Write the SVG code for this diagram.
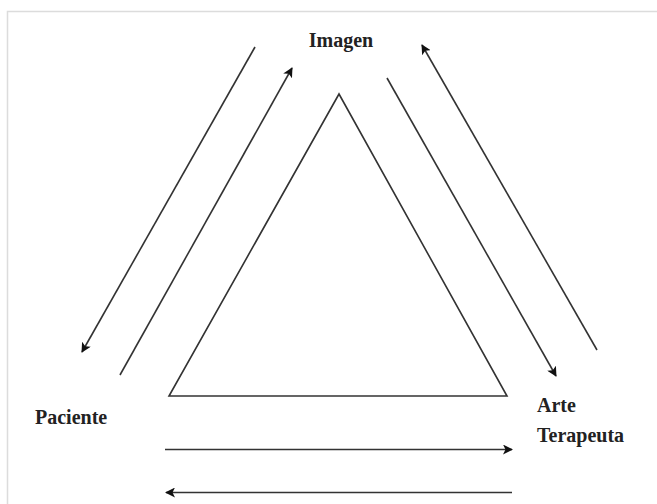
<svg xmlns="http://www.w3.org/2000/svg" width="657" height="504" viewBox="0 0 657 504">
<style>
.lbl{font-family:"Liberation Serif","DejaVu Serif",serif;font-weight:bold;font-size:20px;fill:#222}
.ln{stroke:#333;stroke-width:1.6;fill:none}
</style>
<defs>
<marker id="ah" viewBox="0 0 10 10" refX="9" refY="5" markerWidth="10" markerHeight="10" markerUnits="userSpaceOnUse" orient="auto">
<path d="M0,0 L10,5 L0,10 L2.5,5 z" fill="#111"/>
</marker>
</defs>
<rect width="657" height="504" fill="#fff"/>
<path d="M7.5,504 V11.5 H657" stroke="#dcdcdc" stroke-width="1.5" fill="none"/>
<g id="triangle"><polygon class="ln" points="339,94 169,396 507,396"/></g>
<g id="imagen"><text class="lbl" x="341" y="47" text-anchor="middle">Imagen</text></g>
<g id="paciente"><text class="lbl" x="35" y="424">Paciente</text></g>
<g id="arte"><text class="lbl" x="537" y="412">Arte</text><text class="lbl" x="537" y="442">Terapeuta</text></g>
<g id="connectors">
<line class="ln" x1="255" y1="47" x2="82" y2="352" marker-end="url(#ah)"/>
<line class="ln" x1="120" y1="375" x2="292" y2="68" marker-end="url(#ah)"/>
<line class="ln" x1="387" y1="78" x2="556" y2="376" marker-end="url(#ah)"/>
<line class="ln" x1="597" y1="350" x2="422" y2="45" marker-end="url(#ah)"/>
<line class="ln" x1="165" y1="449.5" x2="512" y2="449.5" marker-end="url(#ah)"/>
<line class="ln" x1="512" y1="492.5" x2="166" y2="492.5" marker-end="url(#ah)"/>
</g>
</svg>
